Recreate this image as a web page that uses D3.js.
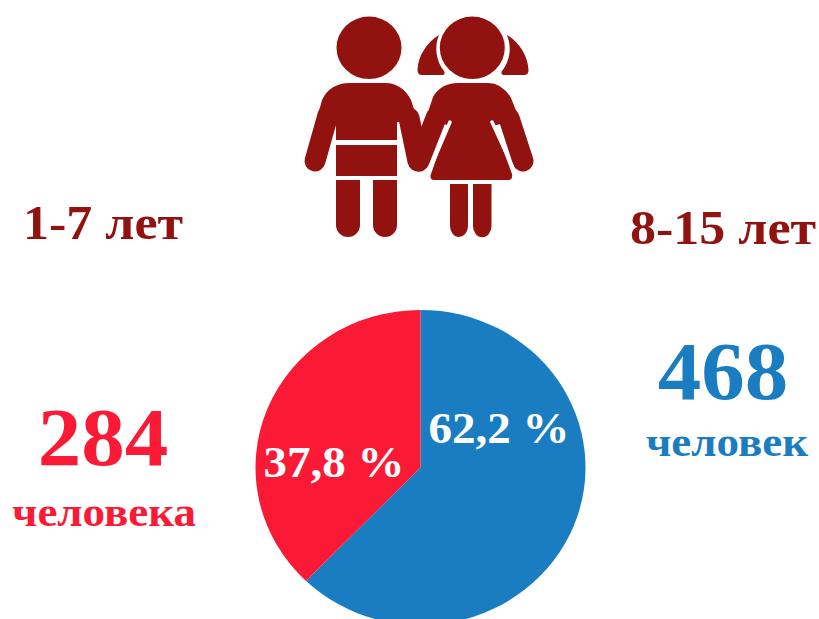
<!DOCTYPE html>
<html><head><meta charset="utf-8">
<script src="https://cdn.jsdelivr.net/npm/d3@7"></script>
<style>html,body{margin:0;padding:0;background:#fff}svg{display:block}text{font-family:"Liberation Serif",serif;font-weight:bold}</style>
</head><body><svg id="c" width="819" height="619"></svg>
<script>
const categories=["8-15 лет","1-7 лет"];
const counts=[468,284];
const shares=[62.2,37.8];
const shareLabels=["62,2 %","37,8 %"];
const units=["человек","человека"];
const colors=["#1a7dc2","#fb1a35"];
const dark="#91120f";
const svg=d3.select("#c");
const pie=d3.pie().sort(null).value(d=>d)(shares);
const arc=d3.arc().innerRadius(0).outerRadius(165);
const g=svg.append("g").attr("transform","translate(420.5,467.5) scale(1,0.955)");
g.selectAll("path").data(pie).join("path").attr("d",arc).attr("fill",(d,i)=>colors[i]);
const sx=1.05;
function T(x,y,s,size,fill){svg.append("text").attr("transform",`translate(${x},${y}) scale(${sx},1)`).attr("text-anchor","middle").attr("font-size",size/sx).attr("fill",fill).text(s);}
T(499,443,shareLabels[0],47,"#fff");
T(334,477,shareLabels[1],47,"#fff");
T(723,399,counts[0],87,colors[0]);
T(103,465,counts[1],87,colors[1]);
T(727,456,units[0],45,colors[0]);
T(104,526,units[1],45,colors[1]);
T(723,244,categories[0],52,dark);
T(103,239,categories[1],52,dark);
// children icon
const ic=svg.append("g").attr("fill",dark);
const limb=(x1,y1,x2,y2)=>ic.append("line").attr("x1",x1).attr("y1",y1).attr("x2",x2).attr("y2",y2).attr("stroke",dark).attr("stroke-width",21).attr("stroke-linecap","round");
const head=(cx)=>ic.append("ellipse").attr("cx",cx).attr("cy",47.8).attr("rx",32.5).attr("ry",31.2);
// boy
head(369);
limb(328,115,315,161);
limb(409,118,418,161);
ic.append("path").attr("d","M397 140H336V122L318 115L322 100Q330 83 350 83H385Q402 83 411 100L419 125L399 122H397Z");
ic.append("rect").attr("x",336).attr("y",145).attr("width",61).attr("height",31);
ic.append("path").attr("d","M336 180H360V225A12 12 0 0 1 336 225ZM373 180H397V225A12 12 0 0 1 373 225Z");
// girl
ic.append("path").attr("d","M439 35C427 42 418 56 417.500 70Q417.500 75 422 75H442Q446 75 444 71A36 36 0 0 1 439 35Z");
ic.append("path").attr("d","M507 35C519 42 528 56 528.500 70Q528.500 75 524 75H505Q500 75 502 71A36 36 0 0 0 507 35Z");
head(472.3);
limb(436,118,419,161);
limb(509,118,523,161);
ic.append("path").attr("d","M426 118L433 97Q441 83 458 83H488Q502 83 511 98L519 118L497 125H447Z");
ic.append("path").attr("d","M449 122H493L512 174Q513 180 508 180H435Q429 180 431 174Z");
const gap=(x1,y1,x2,y2)=>svg.append("line").attr("x1",x1).attr("y1",y1).attr("x2",x2).attr("y2",y2).attr("stroke","#fff").attr("stroke-width",3.500).attr("stroke-linecap","round");
gap(450,122,430,169);
gap(492,122,512,166);
ic.append("path").attr("d","M450 184H468V226A9 11 0 0 1 450 226ZM473 184H491.500V226A9 11 0 0 1 473 226Z");
</script></body></html>
